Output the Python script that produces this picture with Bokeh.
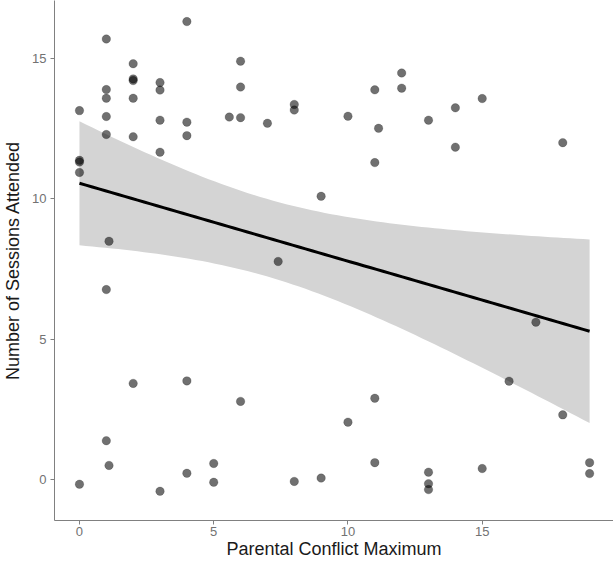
import numpy as np
from bokeh.plotting import figure
from bokeh.models import Range1d, FixedTicker
from bokeh.embed import file_html
from bokeh.resources import INLINE

# Data (jittered points)
conflict_max = [0, 0, 0, 0, 0,
                1, 1, 1, 1, 1, 1, 1, 1.1, 1.1,
                2, 2, 2, 2, 2, 2,
                3, 3, 3, 3, 3,
                4, 4, 4, 4, 4,
                5, 5, 5.58,
                6, 6, 6, 6,
                7, 7.4,
                8, 8, 8,
                9, 9,
                10, 10,
                11, 11.14, 11, 11, 11,
                12, 12,
                13, 13, 13, 13,
                14, 14,
                15, 15,
                16, 17, 18, 18, 19, 19]
sessions = [13.13, 11.36, 11.30, 10.93, -0.17,
            15.68, 13.88, 13.57, 12.92, 12.28, 6.76, 1.38, 8.48, 0.50,
            14.80, 14.26, 14.20, 13.57, 12.20, 3.42,
            14.13, 13.86, 12.79, 11.65, -0.42,
            16.30, 12.72, 12.24, 3.51, 0.22,
            0.57, -0.10, 12.90,
            14.89, 13.97, 12.88, 2.78,
            12.68, 7.76,
            13.35, 13.15, -0.07,
            10.08, 0.05,
            12.93, 2.04,
            13.87, 12.50, 11.28, 2.89, 0.60,
            14.47, 13.93,
            12.79, 0.26, -0.15, -0.36,
            13.23, 11.83,
            13.56, 0.39,
            3.50, 5.60, 11.99, 2.30, 0.60, 0.21]

x_ticks = [0, 5, 10, 15]
y_ticks = [0, 5, 10, 15]

x = np.array(conflict_max, dtype=float)
y = np.array(sessions, dtype=float)
n = len(x)

# Linear fit with 95% confidence band (like geom_smooth(method="lm"))
slope, intercept = np.polyfit(x, y, 1)
resid = y - (intercept + slope * x)
s = np.sqrt(np.sum(resid ** 2) / (n - 2))
xbar = x.mean()
sxx = np.sum((x - xbar) ** 2)
t_crit = 1.996
xs = np.linspace(x.min(), x.max(), 80)
ys = intercept + slope * xs
se = s * np.sqrt(1.0 / n + (xs - xbar) ** 2 / sxx)
upper = ys + t_crit * se
lower = ys - t_crit * se

p = figure(width=613, height=561, output_backend="svg", toolbar_location=None,
           x_range=Range1d(-0.93, 19.89), y_range=Range1d(-1.46, 17.05),
           min_border_left=53, min_border_right=0, min_border_top=0,
           min_border_bottom=41)

p.varea(x=xs, y1=lower, y2=upper, fill_color="#d4d4d4", fill_alpha=1.0)
p.scatter(x, y, size=8.5, fill_color="black", fill_alpha=0.56,
          line_color="black", line_alpha=0.3, line_width=0.6)
p.line(xs, ys, line_color="black", line_width=3)

p.xgrid.visible = False
p.ygrid.visible = False
p.outline_line_color = None
p.background_fill_color = "white"
p.border_fill_color = "white"

p.xaxis.ticker = FixedTicker(ticks=x_ticks)
p.yaxis.ticker = FixedTicker(ticks=y_ticks)
p.xaxis.axis_label = "Parental Conflict Maximum"
p.yaxis.axis_label = "Number of Sessions Attended"

for ax in (p.xaxis[0], p.yaxis[0]):
    ax.axis_line_color = "#808080"
    ax.axis_line_width = 1
    ax.major_tick_line_color = "#808080"
    ax.major_tick_out = 4
    ax.major_tick_in = 0
    ax.minor_tick_line_color = None
    ax.major_label_text_font = "Liberation Sans"
    ax.major_label_text_font_size = "13px"
    ax.major_label_text_color = "#727272"
    ax.axis_label_text_font = "Liberation Sans"
    ax.axis_label_text_font_size = "18px"
    ax.axis_label_text_font_style = "normal"
    ax.axis_label_text_color = "#1a1a1a"

p.xaxis.major_label_standoff = 2
p.xaxis.axis_label_standoff = 0
p.yaxis.major_label_standoff = 4
p.yaxis.axis_label_standoff = 6

open("out.html", "w").write(file_html(p, INLINE))
